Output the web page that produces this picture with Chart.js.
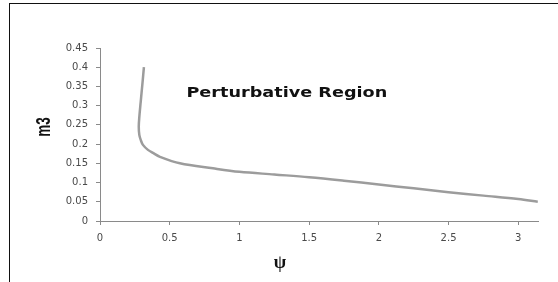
<!DOCTYPE html>
<html>
<head>
<meta charset="utf-8">
<script src="https://cdn.jsdelivr.net/npm/chart.js@4.4.0/dist/chart.umd.min.js"></script>
<style>
    html, body { margin: 0; padding: 0; background: #fff; }
    #wrap { position: relative; width: 558px; height: 282px; overflow: hidden; }
    #frame {
        position: absolute; left: 9px; top: 3px; width: 700px; height: 400px;
        border-left: 1.5px solid #111; border-top: 1.5px solid #111;
    }
    #box { position: absolute; left: 0; top: 0; width: 558px; height: 282px; }
</style>
</head>
<body>
<div id="wrap">
    <div id="frame"></div>
    <div id="box"><canvas id="myChart"></canvas></div>
</div>
<script>
// curve: psi (x) against m3 (y)
const psi = [0.315, 0.305, 0.292, 0.282, 0.278, 0.282, 0.292, 0.308, 0.344, 0.38, 0.43, 0.573, 0.81, 1.0, 1.25, 1.5, 1.75, 2.0, 2.25, 2.5, 2.75, 3.0, 3.14];
const m3  = [0.40, 0.36, 0.31, 0.27, 0.245, 0.224, 0.211, 0.198, 0.185, 0.177, 0.167, 0.150, 0.137, 0.128, 0.121, 0.114, 0.105, 0.095, 0.085, 0.075, 0.066, 0.057, 0.05];

const xTickValues = [0, 0.5, 1, 1.5, 2, 2.5, 3];
const yTickValues = [0, 0.05, 0.1, 0.15, 0.2, 0.25, 0.3, 0.35, 0.4, 0.45];

const xTitle = 'ψ';
const yTitle = 'm3';
const regionLabel = 'Perturbative Region';

const points = psi.map((x, i) => ({ x: x, y: m3[i] }));

// axis titles and the region label drawn by hand (the original is stretched sideways)
const labelsPlugin = {
    id: 'labels',
    afterDraw(chart) {
        const ctx = chart.ctx;
        const xs = chart.scales.x, ys = chart.scales.y;
        ctx.save();
        ctx.fillStyle = '#111';
        ctx.textBaseline = 'middle';

        ctx.save();
        ctx.translate(xs.getPixelForValue(0.62), ys.getPixelForValue(0.333));
        ctx.scale(1.26, 1);
        ctx.textAlign = 'left';
        ctx.font = 'bold 14px "DejaVu Sans"';
        ctx.fillText(regionLabel, 0, 0);
        ctx.restore();

        ctx.textAlign = 'center';
        ctx.font = 'bold 18px "Liberation Serif"';
        ctx.fillText(xTitle, 280, 263);

        ctx.translate(44, 127);
        ctx.rotate(-Math.PI / 2);
        ctx.scale(0.9, 1.35);
        ctx.font = 'bold 15px "Liberation Sans"';
        ctx.fillText(yTitle, 0, 0);
        ctx.restore();
    }
};

const tickFont = { family: 'DejaVu Sans', size: 10 };

new Chart('myChart', {
    type: 'scatter',
    data: {
        datasets: [{
            data: points,
            showLine: true,
            borderColor: '#9c9c9c',
            borderWidth: 2.5,
            tension: 0.35,
            pointRadius: 0,
            fill: false,
        }],
    },
    options: {
        responsive: true,
        maintainAspectRatio: false,
        animation: false,
        layout: { padding: { top: 48, right: 20, left: 0, bottom: 0 } },
        plugins: { legend: { display: false }, tooltip: { enabled: false } },
        scales: {
            x: {
                type: 'linear',
                min: 0,
                max: Math.PI,
                afterBuildTicks: (s) => { s.ticks = xTickValues.map(v => ({ value: v })); },
                afterFit: (s) => { s.height = 61; },
                grid: { display: true, drawOnChartArea: false, drawTicks: true, tickLength: 4, color: '#8a8a8a' },
                border: { color: '#8a8a8a', width: 1 },
                ticks: { font: tickFont, color: '#4a4a4a', padding: 7, maxRotation: 0, callback: v => String(v) },
            },
            y: {
                type: 'linear',
                min: 0,
                max: 0.45,
                afterBuildTicks: (s) => { s.ticks = yTickValues.map(v => ({ value: v })); },
                afterFit: (s) => { s.width = 100; },
                grid: { display: true, drawOnChartArea: false, drawTicks: true, tickLength: 4, color: '#8a8a8a' },
                border: { color: '#8a8a8a', width: 1 },
                ticks: { font: tickFont, color: '#4a4a4a', padding: 8, callback: v => String(v) },
            },
        },
    },
    plugins: [labelsPlugin],
});
</script>
</body>
</html>
